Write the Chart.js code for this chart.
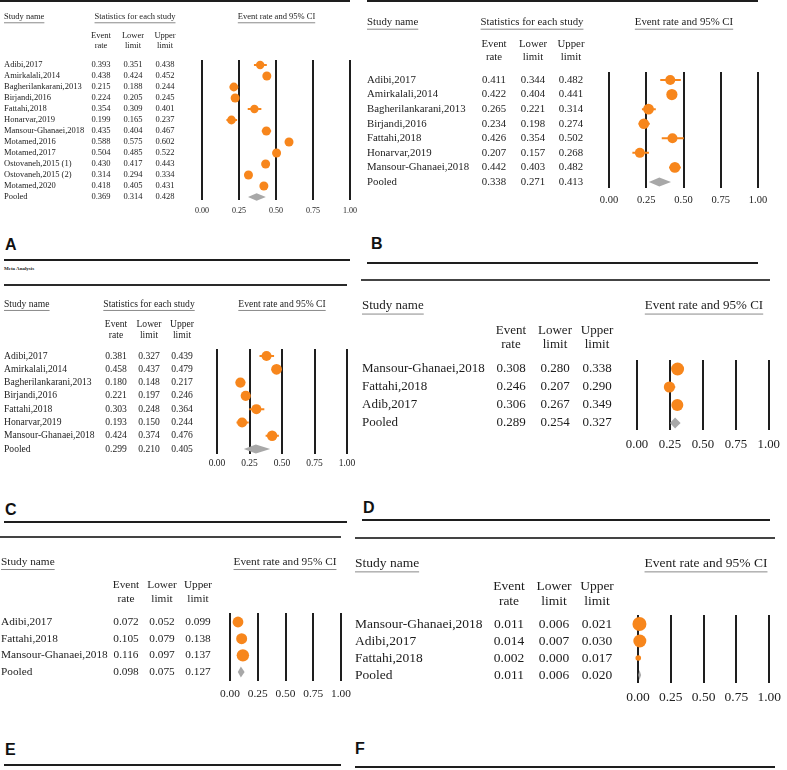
<!DOCTYPE html>
<html><head><meta charset="utf-8">
<script src="https://cdn.jsdelivr.net/npm/chart.js@4"></script>
<style>
html,body{margin:0;padding:0;background:#fff;}
#wrap{position:relative;width:787px;height:770px;overflow:hidden;background:#fff;}
#wrap canvas{position:absolute;left:0;top:0;}
.rule{position:absolute;height:2px;background:#1e1e1e;}
.lbl{position:absolute;font:bold 16px "Liberation Sans",Arial,sans-serif;color:#111;line-height:1;}
.meta{position:absolute;font:bold 5px "Liberation Serif",serif;color:#222;line-height:1;}
</style></head><body><div id="wrap">
<div class="lbl" style="left:5px;top:237px">A</div>
<div class="lbl" style="left:371px;top:236px">B</div>
<div class="lbl" style="left:5px;top:502px">C</div>
<div class="lbl" style="left:363px;top:500px">D</div>
<div class="lbl" style="left:5px;top:742px">E</div>
<div class="lbl" style="left:355px;top:741px">F</div>
<div class="meta" style="left:4px;top:266px">Meta Analysis</div>
</div>
<script>
// ---------- shared text ----------
const headerLabels = ['Study name', 'Statistics for each study', 'Event rate and 95% CI'];
const columnHeaders = [['Event', 'rate'], ['Lower', 'limit'], ['Upper', 'limit']];
const tickValues = [0, 0.25, 0.5, 0.75, 1];

// ---------- Panel A ----------
const studiesA = ['Adibi,2017', 'Amirkalali,2014', 'Bagherilankarani,2013', 'Birjandi,2016', 'Fattahi,2018', 'Honarvar,2019', 'Mansour-Ghanaei,2018', 'Motamed,2016', 'Motamed,2017', 'Ostovaneh,2015 (1)', 'Ostovaneh,2015 (2)', 'Motamed,2020', 'Pooled'];
const rateA  = [0.393, 0.438, 0.215, 0.224, 0.354, 0.199, 0.435, 0.588, 0.504, 0.430, 0.314, 0.418, 0.369];
const lowerA = [0.351, 0.424, 0.188, 0.205, 0.309, 0.165, 0.404, 0.575, 0.485, 0.417, 0.294, 0.405, 0.314];
const upperA = [0.438, 0.452, 0.244, 0.245, 0.401, 0.237, 0.467, 0.602, 0.522, 0.443, 0.334, 0.431, 0.428];

// ---------- Panel B ----------
const studiesB = ['Adibi,2017', 'Amirkalali,2014', 'Bagherilankarani,2013', 'Birjandi,2016', 'Fattahi,2018', 'Honarvar,2019', 'Mansour-Ghanaei,2018', 'Pooled'];
const rateB  = [0.411, 0.422, 0.265, 0.234, 0.426, 0.207, 0.442, 0.338];
const lowerB = [0.344, 0.404, 0.221, 0.198, 0.354, 0.157, 0.403, 0.271];
const upperB = [0.482, 0.441, 0.314, 0.274, 0.502, 0.268, 0.482, 0.413];

// ---------- Panel C ----------
const studiesC = ['Adibi,2017', 'Amirkalali,2014', 'Bagherilankarani,2013', 'Birjandi,2016', 'Fattahi,2018', 'Honarvar,2019', 'Mansour-Ghanaei,2018', 'Pooled'];
const rateC  = [0.381, 0.458, 0.180, 0.221, 0.303, 0.193, 0.424, 0.299];
const lowerC = [0.327, 0.437, 0.148, 0.197, 0.248, 0.150, 0.374, 0.210];
const upperC = [0.439, 0.479, 0.217, 0.246, 0.364, 0.244, 0.476, 0.405];

// ---------- Panel D ----------
const studiesD = ['Mansour-Ghanaei,2018', 'Fattahi,2018', 'Adib,2017', 'Pooled'];
const rateD  = [0.308, 0.246, 0.306, 0.289];
const lowerD = [0.280, 0.207, 0.267, 0.254];
const upperD = [0.338, 0.290, 0.349, 0.327];

// ---------- Panel E ----------
const studiesE = ['Adibi,2017', 'Fattahi,2018', 'Mansour-Ghanaei,2018', 'Pooled'];
const rateE  = [0.072, 0.105, 0.116, 0.098];
const lowerE = [0.052, 0.079, 0.097, 0.075];
const upperE = [0.099, 0.138, 0.137, 0.127];

// ---------- Panel F ----------
const studiesF = ['Mansour-Ghanaei,2018', 'Adibi,2017', 'Fattahi,2018', 'Pooled'];
const rateF  = [0.011, 0.014, 0.002, 0.011];
const lowerF = [0.006, 0.007, 0.000, 0.006];
const upperF = [0.021, 0.030, 0.017, 0.020];

// ---------- styles / layout ----------
const W = 787, H = 770, TICK_H = 24;
const ORANGE = '#F7861C', DIAMOND = '#A8A8A8', TEXT = '#1c1c1c', SERIF = '"Liberation Serif", "Times New Roman", serif';

const panels = [
  { names: studiesA, rate: rateA, lower: lowerA, upper: upperA,
    x0: 202, x1: 350, yTop: 60, yBot: 200, firstY: 65, lastY: 197,
    font: 8.5, tickFont: 8, tickPad: 6, nameX: 4, colX: [101, 133, 165],
    headY: 17, colHeadY: [36, 45.5], statsX: 135, ciX: 276.5,
    radius: [4.2, 4.5, 4.4, 4.5, 4.2, 4.4, 4.5, 4.5, 4.5, 4.5, 4.5, 4.5], ciW: 2, dh: 3.8 },
  { names: studiesB, rate: rateB, lower: lowerB, upper: upperB,
    x0: 609, x1: 758, yTop: 72, yBot: 188, firstY: 80, lastY: 182,
    font: 10.8, tickFont: 10.5, tickPad: 6, nameX: 367, colX: [494, 533, 571],
    headY: 22, colHeadY: [44, 57], statsX: 532, ciX: 684,
    radius: [5, 5.6, 5.4, 5.3, 5, 5, 5.4], ciW: 2, dh: 4.5 },
  { names: studiesC, rate: rateC, lower: lowerC, upper: upperC,
    x0: 217, x1: 347, yTop: 349, yBot: 454, firstY: 356, lastY: 449,
    font: 9.6, tickFont: 9.5, tickPad: 4, nameX: 4, colX: [116, 149, 182],
    headY: 304, colHeadY: [324, 335.5], statsX: 149, ciX: 282,
    radius: [5, 5.4, 5.1, 5.1, 5, 5, 5.2], ciW: 2, dh: 4.5 },
  { names: studiesD, rate: rateD, lower: lowerD, upper: upperD,
    x0: 637, x1: 770, yTop: 360, yBot: 430, firstY: 369, lastY: 423,
    font: 13, tickFont: 12.8, tickPad: 7, nameX: 362, colX: [511, 555, 597],
    headY: 305.5, colHeadY: [331, 345], statsX: null, ciX: 704,
    radius: [6.5, 5.6, 6], ciW: 2, dh: 5.5 },
  { names: studiesE, rate: rateE, lower: lowerE, upper: upperE,
    x0: 230, x1: 341, yTop: 613, yBot: 681, firstY: 622, lastY: 672,
    font: 11.3, tickFont: 11.4, tickPad: 6, nameX: 1, colX: [126, 162, 198],
    headY: 562, colHeadY: [585, 599], statsX: null, ciX: 285,
    radius: [5.4, 5.5, 6.2], ciW: 2, dh: 5.5 },
  { names: studiesF, rate: rateF, lower: lowerF, upper: upperF,
    x0: 638, x1: 774, yTop: 615, yBot: 683, firstY: 624, lastY: 675,
    font: 13.5, tickFont: 13.5, tickPad: 6, nameX: 355, colX: [509, 554, 597],
    headY: 563, colHeadY: [586, 601], statsX: null, ciX: 706,
    radius: [7, 6.5, 2.8], ciW: 2, dh: 5 }
];

const rules = [
  [0, 0, 350, '#1e1e1e'], [367, 0, 758, '#1e1e1e'],
  [4, 259, 350, '#1e1e1e'], [4, 284, 347, '#2a2a2a'],
  [367, 262, 758, '#1e1e1e'], [361, 279, 770, '#444'],
  [4, 521, 347, '#1e1e1e'], [0, 536, 341, '#444'],
  [362, 519, 770, '#1e1e1e'], [355, 537, 775, '#444'],
  [4, 764, 341, '#1e1e1e'], [355, 766, 775, '#1e1e1e']
];
const wrap = document.getElementById('wrap');
rules.forEach(([x, y, x2, c]) => {
  const d = document.createElement('div');
  d.className = 'rule';
  d.style.left = x + 'px'; d.style.top = y + 'px'; d.style.width = (x2 - x) + 'px'; d.style.background = c;
  wrap.appendChild(d);
});

function underlined(ctx, text, x, y, align, size) {
  ctx.textAlign = align;
  ctx.fillText(text, x, y);
  const w = ctx.measureText(text).width;
  const left = align === 'center' ? x - w / 2 : x;
  ctx.fillStyle = '#8a8a8a';
  ctx.fillRect(left, y + size * 0.62, w, 1);
  ctx.fillStyle = TEXT;
}

function makePlugin(p) {
  return {
    id: 'forest',
    afterDatasetsDraw(chart) {
      const ctx = chart.ctx, xs = chart.scales.x, ys = chart.scales.y;
      const last = p.names.length - 1;
      // pooled diamond
      const yc = ys.getPixelForValue(last);
      ctx.save();
      ctx.fillStyle = DIAMOND;
      ctx.beginPath();
      ctx.moveTo(xs.getPixelForValue(p.lower[last]) - 0.5, yc);
      ctx.lineTo(xs.getPixelForValue(p.rate[last]), yc - p.dh);
      ctx.lineTo(xs.getPixelForValue(p.upper[last]) + 0.5, yc);
      ctx.lineTo(xs.getPixelForValue(p.rate[last]), yc + p.dh);
      ctx.closePath();
      ctx.fill();
      // table text
      ctx.fillStyle = TEXT;
      ctx.textBaseline = 'middle';
      ctx.font = p.font + 'px ' + SERIF;
      p.names.forEach((nm, i) => {
        const y = ys.getPixelForValue(i);
        ctx.textAlign = 'left';
        ctx.fillText(nm, p.nameX, y);
        ctx.textAlign = 'center';
        [p.rate, p.lower, p.upper].forEach((arr, k) => ctx.fillText(arr[i].toFixed(3), p.colX[k], y));
      });
      // headers
      underlined(ctx, headerLabels[0], p.nameX, p.headY, 'left', p.font);
      if (p.statsX) underlined(ctx, headerLabels[1], p.statsX, p.headY, 'center', p.font);
      underlined(ctx, headerLabels[2], p.ciX, p.headY, 'center', p.font);
      ctx.textAlign = 'center';
      columnHeaders.forEach((h, k) => {
        ctx.fillText(h[0], p.colX[k], p.colHeadY[0]);
        ctx.fillText(h[1], p.colX[k], p.colHeadY[1]);
      });
      ctx.restore();
    }
  };
}

panels.forEach(p => {
  const n = p.names.length;
  const last = n - 1;
  const sp = (p.lastY - p.firstY) / (n - 1);
  const yMin = -(p.firstY - p.yTop) / sp;
  const yMax = last + (p.yBot - p.lastY) / sp;
  const canvas = document.createElement('canvas');
  canvas.width = W; canvas.height = H;
  canvas.style.width = W + 'px'; canvas.style.height = H + 'px';
  wrap.appendChild(canvas);

  const ciData = [];
  const ptData = [];
  for (let i = 0; i < last; i++) {
    ciData.push({ x: p.lower[i], y: i }, { x: p.upper[i], y: i }, { x: null, y: null });
    ptData.push({ x: p.rate[i], y: i });
  }

  new Chart(canvas, {
    type: 'scatter',
    data: {
      datasets: [
        { data: ciData, showLine: true, spanGaps: false, borderColor: ORANGE, borderWidth: p.ciW,
          pointRadius: 0, pointHoverRadius: 0, clip: false },
        { data: ptData, backgroundColor: ORANGE, borderWidth: 0, pointRadius: p.radius,
          pointHoverRadius: p.radius, clip: false }
      ]
    },
    options: {
      responsive: false, animation: false, devicePixelRatio: 1, events: [],
      layout: { padding: { left: p.x0, right: W - p.x1, top: p.yTop, bottom: H - p.yBot - TICK_H } },
      plugins: { legend: { display: false }, tooltip: { enabled: false } },
      scales: {
        x: {
          type: 'linear', position: 'bottom', min: 0, max: 1,
          afterFit: s => { s.height = TICK_H; },
          afterBuildTicks: s => { s.ticks = tickValues.map(v => ({ value: v })); },
          ticks: { callback: v => Number(v).toFixed(2), font: { family: SERIF, size: p.tickFont },
                   color: '#222', padding: p.tickPad, maxRotation: 0, autoSkip: false },
          grid: { color: '#1e1e1e', lineWidth: 2, drawTicks: false },
          border: { display: false }
        },
        y: { type: 'linear', display: false, reverse: true, min: yMin, max: yMax }
      }
    },
    plugins: [makePlugin(p)]
  });
});
</script>
</body></html>
